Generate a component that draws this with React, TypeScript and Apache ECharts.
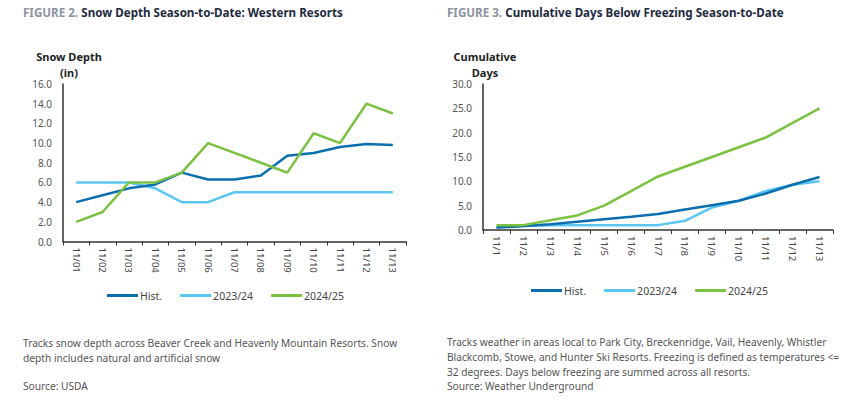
import React, { useEffect, useRef } from "react";
import * as echarts from "echarts";

const leftCategories = ["11/01", "11/02", "11/03", "11/04", "11/05", "11/06", "11/07", "11/08", "11/09", "11/10", "11/11", "11/12", "11/13"];
const leftHist = [4.0, 4.7, 5.4, 5.8, 7.0, 6.3, 6.3, 6.7, 8.7, 9.0, 9.6, 9.9, 9.8];
const left2324 = [6.0, 6.0, 6.0, 5.4, 4.0, 4.0, 5.0, 5.0, 5.0, 5.0, 5.0, 5.0, 5.0];
const left2425 = [2.0, 3.0, 6.0, 6.0, 7.0, 10.0, 9.0, 8.0, 7.0, 11.0, 10.0, 14.0, 13.0];

const rightCategories = ["11/1", "11/2", "11/3", "11/4", "11/5", "11/6", "11/7", "11/8", "11/9", "11/10", "11/11", "11/12", "11/13"];
const rightHist = [0.5, 0.8, 1.2, 1.7, 2.2, 2.7, 3.3, 4.2, 5.1, 6.0, 7.5, 9.3, 10.9];
const right2324 = [0.5, 0.8, 1.0, 1.0, 1.0, 1.0, 1.0, 1.9, 4.6, 6.0, 8.0, 9.3, 10.0];
const right2425 = [1.0, 1.0, 2.0, 3.0, 5.0, 8.0, 11.0, 13.0, 15.0, 17.0, 19.0, 22.0, 25.0];

const seriesNames = ["Hist.", "2023/24", "2024/25"];
const colors = ["#0b6faf", "#5cc6f2", "#7cc242"];

const FONT = "'Noto Sans', 'Open Sans', sans-serif";

export default function App() {
  const ref = useRef<HTMLDivElement>(null);
  useEffect(() => {
    document.body.style.margin = "0";
    const chart = echarts.init(ref.current!, null, { renderer: "svg" });
    const mkX = (idx: number, cats: string[]) => ({
      type: "category",
      gridIndex: idx,
      data: cats,
      boundaryGap: true,
      axisLine: { show: true, lineStyle: { color: "#333", width: 1.5 } },
      axisTick: { show: true, alignWithLabel: false, length: 4, lineStyle: { color: "#333" } },
      axisLabel: { rotate: -90, color: "#444", fontSize: 9.5, fontFamily: FONT, margin: 6 },
      splitLine: { show: false },
    });
    const mkY = (idx: number, max: number, interval: number) => ({
      type: "value",
      gridIndex: idx,
      min: 0,
      max,
      interval,
      axisLine: { show: true, lineStyle: { color: "#333", width: 1.5 } },
      axisTick: { show: false },
      splitLine: { show: false },
      axisLabel: {
        color: "#555",
        fontSize: 10,
        fontFamily: FONT,
        margin: 11,
        formatter: (v: number) => v.toFixed(1),
      },
    });
    const mkSeries = (idx: number, name: string, data: number[], color: string) => ({
      type: "line",
      name,
      xAxisIndex: idx,
      yAxisIndex: idx,
      data,
      symbol: "none",
      lineStyle: { color, width: 2.5 },
      itemStyle: { color },
    });
    const legendBase = {
      icon: "rect",
      itemWidth: 31,
      itemHeight: 3,
      itemGap: 18,
      padding: 0,
      textStyle: { color: "#444", fontSize: 10.5, fontFamily: FONT, padding: [0, 0, 0, -3] },
      data: seriesNames,
    };
    const titleStyle = (x: number, y: number, fig: string, text: string) => ({
      type: "text",
      left: x,
      top: y,
      style: {
        text: `{a|${fig}} {b|${text}}`,
        rich: {
          a: { fontSize: 11.6, fontWeight: "bold", fill: "#8c93a0", fontFamily: FONT },
          b: { fontSize: 11.6, fontWeight: "bold", fill: "#1e2a40", fontFamily: FONT },
        },
      },
    });
    const caption = (x: number, y: number, text: string, lh: number) => ({
      type: "text",
      left: x,
      top: y,
      style: { text, fontSize: 10.2, fill: "#555", fontFamily: FONT, lineHeight: lh },
    });
    const axisTitle = (cx: number, y: number, text: string) => ({
      type: "text",
      x: cx,
      y,
      style: { text, fontSize: 11, fontWeight: "bold", fill: "#222", fontFamily: FONT, align: "center", verticalAlign: "top", lineHeight: 15.5 },
    });
    chart.setOption({
      animation: false,
      grid: [
        { left: 63, top: 84, width: 343, height: 157.5 },
        { left: 483, top: 84, width: 350, height: 146 },
      ],
      xAxis: [mkX(0, leftCategories), mkX(1, rightCategories)],
      yAxis: [mkY(0, 16, 2), mkY(1, 30, 5)],
      legend: [
        { ...legendBase, left: 107, top: 290 },
        { ...legendBase, left: 531, top: 285 },
      ],
      series: [
        mkSeries(0, seriesNames[0], leftHist, colors[0]),
        mkSeries(0, seriesNames[1], left2324, colors[1]),
        mkSeries(0, seriesNames[2], left2425, colors[2]),
        mkSeries(1, seriesNames[0], rightHist, colors[0]),
        mkSeries(1, seriesNames[1], right2324, colors[1]),
        mkSeries(1, seriesNames[2], right2425, colors[2]),
      ].map((s, i) => ({ ...s, z: i % 3 === 2 ? 3 : i % 3 === 0 ? 2 : 1 })),
      graphic: [
        titleStyle(23, 6, "FIGURE 2.", "Snow Depth Season-to-Date: Western Resorts"),
        titleStyle(447, 6, "FIGURE 3.", "Cumulative Days Below Freezing Season-to-Date"),
        axisTitle(69, 49, "Snow Depth\n(in)"),
        axisTitle(485, 49, "Cumulative\nDays"),
        caption(23, 335, "Tracks snow depth across Beaver Creek and Heavenly Mountain Resorts. Snow\ndepth includes natural and artificial snow", 15),
        caption(23, 378, "Source: USDA", 15),
        caption(447, 335, "Tracks weather in areas local to Park City, Breckenridge, Vail, Heavenly, Whistler\nBlackcomb, Stowe, and Hunter Ski Resorts. Freezing is defined as temperatures <=\n32 degrees. Days below freezing are summed across all resorts.\nSource: Weather Underground", 14.7),
      ],
    });
    return () => chart.dispose();
  }, []);
  return <div ref={ref} style={{ position: "fixed", left: 0, top: 0, width: 848, height: 413, background: "#fff" }} />;
}
